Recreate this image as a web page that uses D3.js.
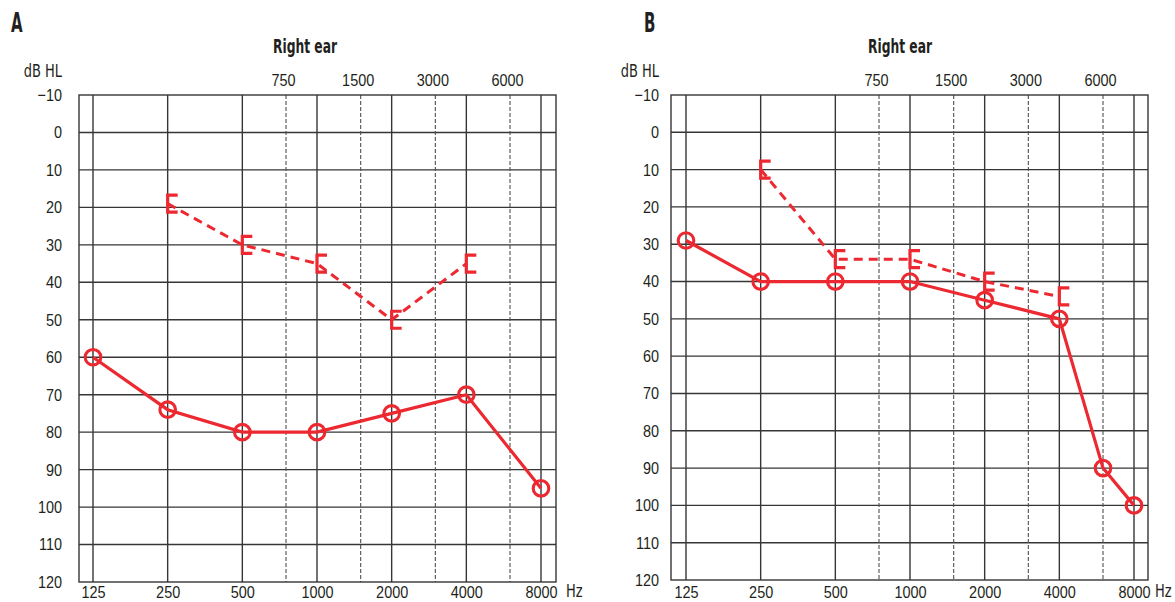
<!DOCTYPE html>
<html>
<head>
<meta charset="utf-8">
<script src="https://cdn.jsdelivr.net/npm/d3@7"></script>
<style>
  body { margin: 0; background: #fff; }
  svg { display: block; font-family: 'DejaVu Sans Condensed', 'Liberation Sans Narrow', sans-serif; font-stretch: condensed; }
  text { fill: #231f20; }
  .grid { stroke: #363636; stroke-width: 1.4; fill: none; }
  .grid-half { stroke: #505050; stroke-width: 1.1; stroke-dasharray: 4,2; }
  .axis text { font-size: 17px; }
</style>
</head>
<body>
<svg id="chart" width="1175" height="602"></svg>
<script>
// frequencies (Hz) and hearing levels (dB HL)
const freqs = [125, 250, 500, 1000, 2000, 4000, 8000];
const midFreqs = [750, 1500, 3000, 6000];
const dbTicks = [-10, 0, 10, 20, 30, 40, 50, 60, 70, 80, 90, 100, 110, 120];

// panel A
const airFreqA = [125, 250, 500, 1000, 2000, 4000, 8000];
const airA = [60, 74, 80, 80, 75, 70, 95];
const boneFreqA = [250, 500, 1000, 2000, 4000];
const boneA = [19, 30, 35, 50, 35];

// panel B
const airFreqB = [125, 250, 500, 1000, 2000, 4000, 6000, 8000];
const airB = [29, 40, 40, 40, 45, 50, 90, 100];
const boneFreqB = [250, 500, 1000, 2000, 4000];
const boneB = [10, 34, 34, 40, 44];

const red = '#ec2830';
const sx = 0.85; // squeeze text to look like a condensed face
const svg = d3.select('#chart');

function label(g, x, y, txt, size, opts = {}) {
  const s = opts.sx || sx;
  g.append('text')
    .attr('transform', `translate(${x},${y}) scale(${s},1)`)
    .attr('text-anchor', opts.anchor || 'start')
    .style('font-size', size + 'px')
    .style('font-weight', opts.bold ? 'bold' : null)
    .text(txt);
}

function drawPanel(p) {
  const x = d3.scaleLog().domain([125, 8000]).range([p.x125, p.x8000]);
  const y = d3.scaleLinear().domain([-10, 120]).range([p.top, p.bottom]);
  const g = svg.append('g');

  // grid
  g.selectAll('.hline').data(dbTicks.slice(1, -1)).enter().append('line')
    .attr('class', 'grid')
    .attr('x1', p.left).attr('x2', p.right)
    .attr('y1', d => y(d)).attr('y2', d => y(d));
  g.selectAll('.vline').data(freqs).enter().append('line')
    .attr('class', 'grid')
    .attr('x1', d => x(d)).attr('x2', d => x(d))
    .attr('y1', p.top).attr('y2', p.bottom);
  g.selectAll('.hvline').data(midFreqs).enter().append('line')
    .attr('class', 'grid-half')
    .attr('x1', d => x(d)).attr('x2', d => x(d))
    .attr('y1', p.top).attr('y2', p.bottom);
  g.append('rect')
    .attr('class', 'grid')
    .attr('x', p.left).attr('y', p.top)
    .attr('width', p.right - p.left).attr('height', p.bottom - p.top);

  // axes
  const yAxis = g.append('g')
    .attr('class', 'axis')
    .attr('transform', `translate(${p.left},0)`)
    .call(d3.axisLeft(y).tickValues(dbTicks).tickFormat(d3.format('d')).tickSize(0).tickPadding(p.yPad));
  yAxis.selectAll('text')
    .attr('x', -p.yPad / sx)
    .attr('transform', `scale(${sx},1)`);
  const xAxis = g.append('g')
    .attr('class', 'axis')
    .attr('transform', `translate(0,${p.bottom})`)
    .call(d3.axisBottom(x).tickValues(freqs).tickFormat(d3.format('d')).tickSize(0).tickPadding(p.xPad));
  const topAxis = g.append('g')
    .attr('class', 'axis')
    .attr('transform', `translate(-3,${p.top})`)
    .call(d3.axisTop(x).tickValues(midFreqs).tickFormat(d3.format('d')).tickSize(0).tickPadding(9));
  [xAxis, topAxis].forEach(a => a.selectAll('text').attr('transform', `scale(${sx},1)`));
  [yAxis, xAxis, topAxis].forEach(a => a.select('.domain').remove());
  g.selectAll('.axis text').attr('font-family', null).attr('font-size', null);

  // labels
  label(g, p.letterX, 32, p.letter, 26, {bold: true, sx: 0.64});
  label(g, p.titleX, 53, 'Right ear', 19, {bold: true, sx: 0.72, anchor: 'middle'});
  label(g, p.left - p.yPad, 77, 'dB HL', 17, {anchor: 'end'});
  label(g, p.hzX, 597, 'Hz', 17);

  // bone conduction (dashed, brackets)
  const bone = p.boneFreq.map((f, i) => [x(f), y(p.bone[i])]);
  g.append('path')
    .attr('d', d3.line()(bone))
    .attr('fill', 'none').attr('stroke', red)
    .attr('stroke-width', 3).attr('stroke-dasharray', '9,6');
  g.selectAll('.bracket').data(bone).enter().append('path')
    .attr('d', d => `M${d[0] + 10},${d[1] - 8.5}H${d[0]}V${d[1] + 8.5}H${d[0] + 10}`)
    .attr('fill', 'none').attr('stroke', red).attr('stroke-width', 3.2);

  // air conduction (solid, circles)
  const air = p.airFreq.map((f, i) => [x(f), y(p.air[i])]);
  g.append('path')
    .attr('d', d3.line()(air))
    .attr('fill', 'none').attr('stroke', red).attr('stroke-width', 3.2);
  g.selectAll('.circ').data(air).enter().append('circle')
    .attr('cx', d => d[0]).attr('cy', d => d[1]).attr('r', 7.8)
    .attr('fill', 'none').attr('stroke', red).attr('stroke-width', 3.1);
}

drawPanel({
  letter: 'A', letterX: 11, titleX: 305, hzX: 566,
  left: 79, right: 556, x125: 93, x8000: 541, top: 95, bottom: 582, yPad: 17, xPad: 4,
  airFreq: airFreqA, air: airA, boneFreq: boneFreqA, bone: boneA
});
drawPanel({
  letter: 'B', letterX: 644, titleX: 900, hzX: 1155,
  left: 671, right: 1148, x125: 686, x8000: 1134, top: 95, bottom: 580, yPad: 12, xPad: 6,
  airFreq: airFreqB, air: airB, boneFreq: boneFreqB, bone: boneB
});
</script>
</body>
</html>
